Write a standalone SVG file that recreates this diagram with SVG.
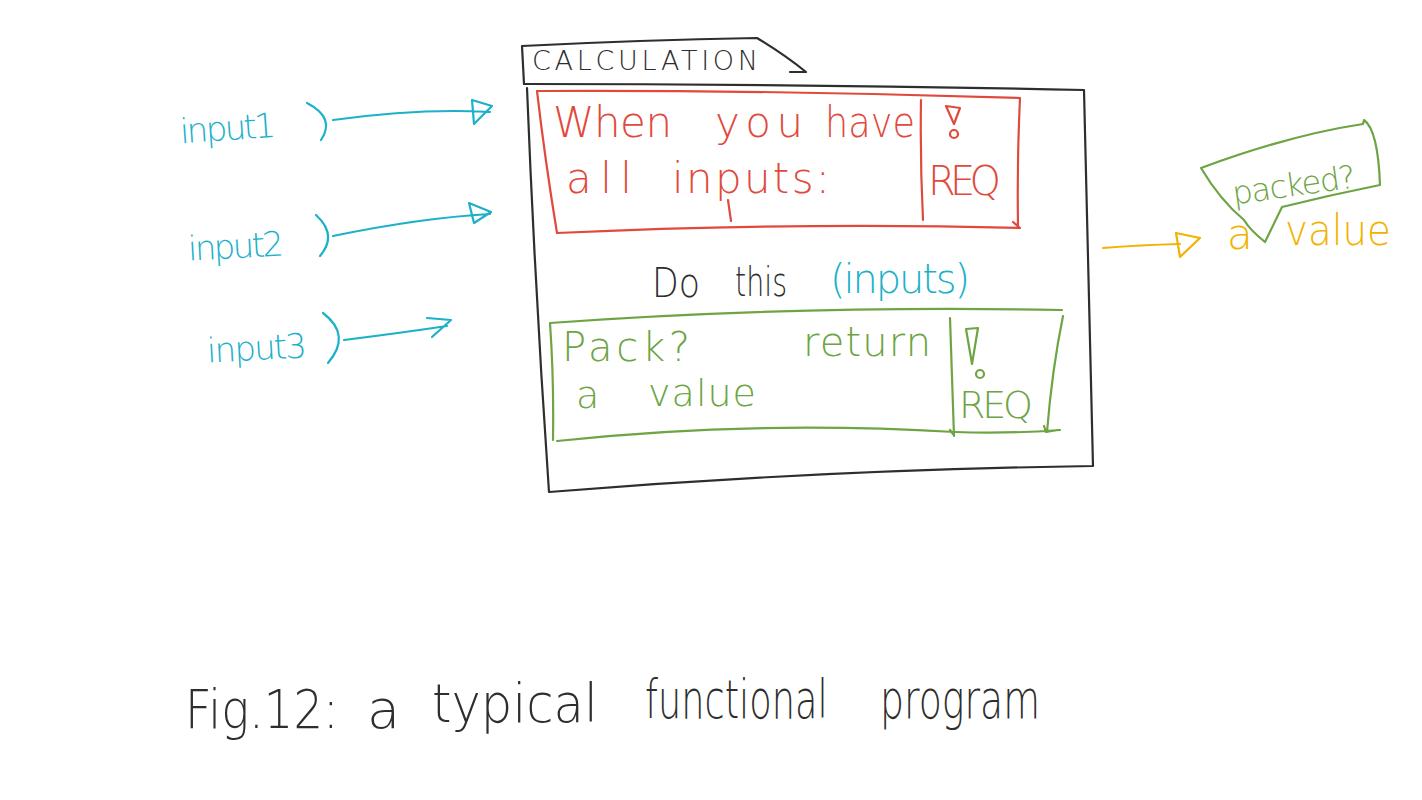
<svg xmlns="http://www.w3.org/2000/svg" width="1422" height="800" viewBox="0 0 1422 800">
<style>
.ln{fill:none;stroke-width:2.2;stroke-linecap:round;stroke-linejoin:round}
.dk{stroke:#2e2e2e}.rd{stroke:#e04a3c}.gn{stroke:#6da444}.cy{stroke:#1cb1c9}.or{stroke:#f1b300}
.t{font-family:"DejaVu Sans","Liberation Sans",sans-serif;font-weight:200}
.tdk{fill:#2e2e2e}.trd{fill:#e04a3c}.tgn{fill:#6da444}.tcy{fill:#1cb1c9}.tor{fill:#f1b300}
.cap{font-size:54px}
</style>
<rect width="1422" height="800" fill="#ffffff"/>

<g id="calculation">
  <path class="ln dk" d="M522,46 L524,84 M522,46 Q640,40 757,38 Q785,55 806,72 L790,72"/>
  <path class="ln dk" d="M524,84 Q800,84 1084,90 Q1088,280 1093,466 Q820,470 549,492 Q535,290 527,88"/>
  <text class="t tdk" x="532" y="70" font-size="27" textLength="226" lengthAdjust="spacing">CALCULATION</text>
  <text class="t tdk" x="652" y="297" font-size="40" textLength="48" lengthAdjust="spacingAndGlyphs">Do</text>
  <text class="t tdk" x="735" y="296" font-size="40" textLength="52" lengthAdjust="spacingAndGlyphs">this</text>
  <text class="t tcy" x="830" y="293" font-size="40" textLength="140" lengthAdjust="spacing">(inputs)</text>
</g>

<g id="when-block">
  <path class="ln rd" d="M537,91 Q780,90 1020,98 Q1017,160 1018,227 M1013,222 L1020,228 Q800,222 557,233 Q545,160 537,91"/>
  <path class="ln rd" d="M921,100 Q920,160 923,220 M728,200 L731,221"/>
  <text class="t trd" x="553" y="137" font-size="42" textLength="119" lengthAdjust="spacing">When</text>
  <text class="t trd" x="715" y="137" font-size="42" textLength="88" lengthAdjust="spacing">you</text>
  <text class="t trd" x="825" y="137" font-size="42" textLength="90" lengthAdjust="spacingAndGlyphs">have</text>
  <text class="t trd" x="566" y="193" font-size="42" textLength="66" lengthAdjust="spacing">all</text>
  <text class="t trd" x="672" y="193" font-size="42" textLength="158" lengthAdjust="spacing">inputs:</text>
  <path class="ln rd" d="M946,106 L960,108 L954,124 Z"/>
  <circle class="ln rd" cx="954" cy="134" r="4"/>
  <text class="t trd" x="928" y="195" font-size="40" textLength="73" lengthAdjust="spacing">REQ</text>
</g>

<g id="return-block">
  <path class="ln gn" d="M550,323 Q800,305 1062,310 M1063,316 Q1052,370 1047,432 M1044,426 L1046,432 L1058,430 M557,441 Q750,420 955,432 Q1005,434 1060,430 M550,323 Q554,380 553,440"/>
  <path class="ln gn" d="M950,318 Q952,375 954,436 M950,430 L953,434"/>
  <text class="t tgn" x="562" y="361" font-size="40" textLength="128" lengthAdjust="spacing">Pack?</text>
  <text class="t tgn" x="803" y="356" font-size="40" textLength="128" lengthAdjust="spacing">return</text>
  <text class="t tgn" x="576" y="408" font-size="38" textLength="34" lengthAdjust="spacing">a</text>
  <text class="t tgn" x="648" y="406" font-size="38" textLength="108" lengthAdjust="spacing">value</text>
  <path class="ln gn" d="M966,329 L978,328 L972,364 Z"/>
  <circle class="ln gn" cx="980" cy="374" r="4"/>
  <text class="t tgn" x="959" y="418" font-size="38" textLength="74" lengthAdjust="spacing">REQ</text>
</g>

<g id="input1">
  <text class="t tcy" x="180" y="140" font-size="34" textLength="96" lengthAdjust="spacing" transform="rotate(-4 228 130)">input1</text>
</g>
<g id="input2">
  <text class="t tcy" x="188" y="258" font-size="34" textLength="96" lengthAdjust="spacing" transform="rotate(-3 236 248)">input2</text>
</g>
<g id="input3">
  <text class="t tcy" x="207" y="360" font-size="34" textLength="100" lengthAdjust="spacing" transform="rotate(-3 256 350)">input3</text>
</g>

<g id="output">
  <path class="ln gn" d="M1201,168 Q1290,135 1363,124 L1364,120 Q1378,130 1380,185 Q1330,195 1282,207 L1265,242 Q1250,230 1244,220 Q1220,200 1201,168 Z"/>
  <text class="t tgn" x="1232" y="196" font-size="32" textLength="124" lengthAdjust="spacing" transform="rotate(-8 1294 186)">packed?</text>
  <text class="t tor" x="1227" y="249" font-size="42" textLength="33" lengthAdjust="spacing">a</text>
  <text class="t tor" x="1285" y="245" font-size="42" textLength="106" lengthAdjust="spacingAndGlyphs">value</text>
</g>

<g id="connectors">
  <path class="ln cy" d="M307,103 Q336,118 321,140"/>
  <path class="ln cy" d="M333,120 Q420,108 490,112 M472,100 L492,106 L474,124 Z"/>
  <path class="ln cy" d="M316,215 Q338,235 320,256"/>
  <path class="ln cy" d="M333,236 Q420,218 490,214 M469,203 L491,212 L474,223 Z"/>
  <path class="ln cy" d="M323,313 Q352,335 328,363"/>
  <path class="ln cy" d="M344,340 Q400,333 447,326 M427,318 L451,320 L432,337"/>
  <path class="ln or" d="M1103,248 Q1140,245 1180,244 M1176,233 L1200,238 L1180,257 Z"/>
</g>

<g id="caption">
  <text class="t tdk cap" transform="translate(185,728) scale(0.86,1)">Fig.12:</text>
  <text class="t tdk cap" x="367" y="728">a</text>
  <text class="t tdk cap" transform="translate(432,722) scale(0.92,1)">typical</text>
  <text class="t tdk cap" transform="translate(645,718) scale(0.68,1)">functional</text>
  <text class="t tdk cap" transform="translate(880,718) scale(0.70,1)">program</text>
</g>
</svg>
